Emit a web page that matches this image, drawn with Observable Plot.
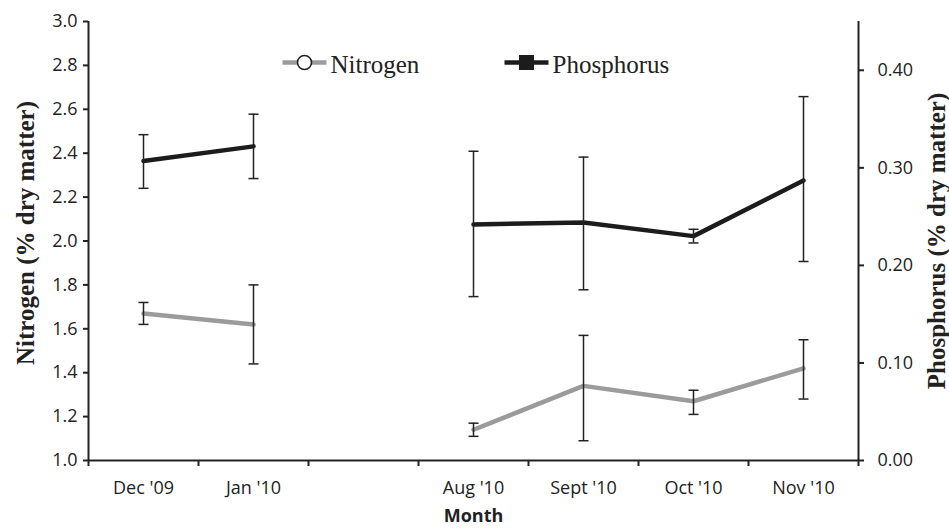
<!DOCTYPE html>
<html>
<head>
<meta charset="utf-8">
<script src="https://cdn.jsdelivr.net/npm/d3@7"></script>
<script src="https://cdn.jsdelivr.net/npm/@observablehq/plot@0.6"></script>
<style>
  html, body { margin: 0; padding: 0; background: #fff; }
  #chart { width: 949px; height: 529px; }
</style>
</head>
<body>
<div id="chart"></div>
<script>
// ---- data ----
const months = ["Dec '09", "Jan '10", "", "Aug '10", "Sept '10", "Oct '10", "Nov '10"];
const nitrogen     = [1.67, 1.62, null, 1.14, 1.34, 1.27, 1.42];
const nitrogenLow  = [1.62, 1.44, null, 1.11, 1.09, 1.21, 1.28];
const nitrogenHigh = [1.72, 1.80, null, 1.17, 1.57, 1.32, 1.55];
const phosphorus     = [0.307, 0.322, null, 0.242, 0.244, 0.230, 0.287];
const phosphorusLow  = [0.279, 0.289, null, 0.168, 0.175, 0.223, 0.204];
const phosphorusHigh = [0.334, 0.355, null, 0.317, 0.311, 0.237, 0.373];
const leftTicks  = [1.0, 1.2, 1.4, 1.6, 1.8, 2.0, 2.2, 2.4, 2.6, 2.8, 3.0];
const rightTicks = [0.00, 0.10, 0.20, 0.30, 0.40];
const leftDomain = [1.0, 3.0];
const rightDomain = [0.0, 0.45];
const seriesNames = ["Nitrogen", "Phosphorus"];
const leftTitle = "Nitrogen (% dry matter)";
const rightTitle = "Phosphorus (% dry matter)";
const xTitle = "Month";

// map phosphorus onto the left (nitrogen) scale
const toLeft = p => leftDomain[0] + (p - rightDomain[0]) * (leftDomain[1] - leftDomain[0]) / (rightDomain[1] - rightDomain[0]);
const fromLeft = v => rightDomain[0] + (v - leftDomain[0]) * (rightDomain[1] - rightDomain[0]) / (leftDomain[1] - leftDomain[0]);

const rows = months.map((m, i) => ({
  i: i + 0.5,
  month: m,
  n: nitrogen[i], nLo: nitrogenLow[i], nHi: nitrogenHigh[i],
  p: phosphorus[i] == null ? null : toLeft(phosphorus[i]),
  pLo: phosphorusLow[i] == null ? null : toLeft(phosphorusLow[i]),
  pHi: phosphorusHigh[i] == null ? null : toLeft(phosphorusHigh[i])
}));
const valid = rows.filter(d => d.n != null);
const labelPositions = rows.filter(d => d.month !== "").map(d => d.i);
const boundaries = d3.range(0, months.length + 1);

const cap = { draw(ctx) { ctx.moveTo(-5, 0); ctx.lineTo(5, 0); } };
const seg = { draw(ctx) { ctx.moveTo(-22, 0); ctx.lineTo(22, 0); } };
const sq = { draw(ctx) { ctx.rect(-7.5, -7.5, 15, 15); } };

const GRAY = "#9b9b9b", BLACK = "#1c1c1c", INK = "#222";
const SERIF = "'Liberation Serif', 'Times New Roman', serif";

const chart = Plot.plot({
  width: 949,
  height: 529,
  marginLeft: 88,
  marginRight: 91,
  marginTop: 21,
  marginBottom: 69,
  style: { fontFamily: "'Open Sans', sans-serif", fontSize: "18px", color: INK, background: "#fff" },
  x: { type: "linear", domain: [0, months.length], axis: null, label: null },
  y: { domain: leftDomain, axis: null, label: null },
  marks: [
    // axis lines
    Plot.ruleY([leftDomain[0]], { x1: 0, x2: months.length, stroke: INK, strokeWidth: 2 }),
    Plot.ruleX([0], { y1: leftDomain[0], y2: leftDomain[1], stroke: INK, strokeWidth: 2 }),
    Plot.ruleX([months.length], { y1: leftDomain[0], y2: leftDomain[1], stroke: INK, strokeWidth: 2 }),
    // x axis
    Plot.axisX({ ticks: boundaries, tickSize: 6, tickFormat: () => "", strokeWidth: 2, stroke: INK, label: null }),
    Plot.axisX({ ticks: labelPositions, tickSize: 0, tickPadding: 21, label: null,
      tickFormat: v => months[Math.round(v - 0.5)], fontSize: 18 }),
    // left y axis
    Plot.axisY({ ticks: leftTicks, tickSize: 5, tickPadding: 6, strokeWidth: 2, stroke: INK, label: null,
      tickFormat: d => d.toFixed(1), anchor: "left", fontSize: 18 }),
    // right y axis (phosphorus)
    Plot.axisY({ ticks: rightTicks.map(toLeft), tickSize: 5, tickPadding: 14, strokeWidth: 2, stroke: INK, label: null,
      tickFormat: v => fromLeft(v).toFixed(2), anchor: "right", fontSize: 18 }),
    // titles
    Plot.text([leftTitle], { frameAnchor: "left", dx: -63, dy: -8, rotate: -90, text: d => d,
      textAnchor: "middle", lineAnchor: "middle",
      fontFamily: SERIF, fontWeight: "bold", fontSize: 25, fill: INK }),
    Plot.text([rightTitle], { frameAnchor: "right", dx: 78, dy: 0, rotate: -90, text: d => d,
      textAnchor: "middle", lineAnchor: "middle",
      fontFamily: SERIF, fontWeight: "bold", fontSize: 25, fill: INK }),
    Plot.text([xTitle], { frameAnchor: "bottom", dy: 61, text: d => d,
      fontWeight: "bold", fontSize: 18, fill: INK }),
    // lines
    Plot.line(rows, { x: "i", y: "n", stroke: GRAY, strokeWidth: 4.5 }),
    Plot.line(rows, { x: "i", y: "p", stroke: BLACK, strokeWidth: 4.5 }),
    // error bars
    Plot.ruleX(valid, { x: "i", y1: "nLo", y2: "nHi", stroke: INK, strokeWidth: 1.5 }),
    Plot.dot(valid, { x: "i", y: "nLo", symbol: cap, stroke: INK, strokeWidth: 1.5, fill: "none" }),
    Plot.dot(valid, { x: "i", y: "nHi", symbol: cap, stroke: INK, strokeWidth: 1.5, fill: "none" }),
    Plot.ruleX(valid, { x: "i", y1: "pLo", y2: "pHi", stroke: INK, strokeWidth: 1.5 }),
    Plot.dot(valid, { x: "i", y: "pLo", symbol: cap, stroke: INK, strokeWidth: 1.5, fill: "none" }),
    Plot.dot(valid, { x: "i", y: "pHi", symbol: cap, stroke: INK, strokeWidth: 1.5, fill: "none" }),
    // legend (inside the plot frame)
    Plot.dot([seriesNames[0]], { frameAnchor: "top-left", dx: 216, dy: 41, symbol: seg, stroke: GRAY, strokeWidth: 4.5, fill: "none" }),
    Plot.dot([seriesNames[0]], { frameAnchor: "top-left", dx: 216, dy: 41, r: 7, symbol: "circle", stroke: INK, strokeWidth: 1.6, fill: "#fff" }),
    Plot.text([seriesNames[0]], { frameAnchor: "top-left", dx: 242, dy: 43, text: d => d,
      textAnchor: "start", lineAnchor: "middle", fontFamily: SERIF, fontSize: 25, fill: INK }),
    Plot.dot([seriesNames[1]], { frameAnchor: "top-left", dx: 438, dy: 41, symbol: seg, stroke: BLACK, strokeWidth: 4.5, fill: "none" }),
    Plot.dot([seriesNames[1]], { frameAnchor: "top-left", dx: 438, dy: 41, symbol: sq, fill: BLACK, stroke: "none" }),
    Plot.text([seriesNames[1]], { frameAnchor: "top-left", dx: 464, dy: 43, text: d => d,
      textAnchor: "start", lineAnchor: "middle", fontFamily: SERIF, fontSize: 25, fill: INK })
  ]
});
document.getElementById("chart").appendChild(chart);
</script>
</body>
</html>
